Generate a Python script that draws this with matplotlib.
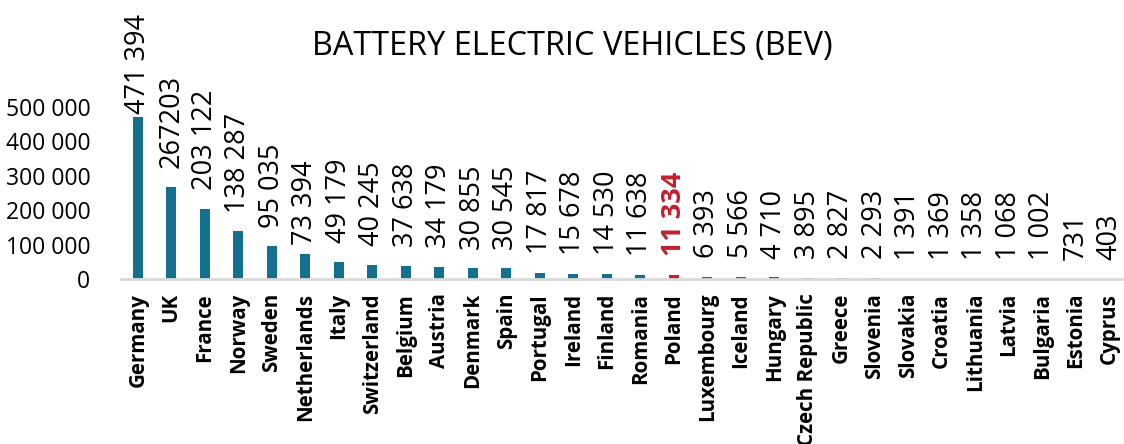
import matplotlib
matplotlib.use("Agg")
import matplotlib.pyplot as plt
from matplotlib.ticker import FuncFormatter

countries = ["Germany", "UK", "France", "Norway", "Sweden", "Netherlands", "Italy",
             "Switzerland", "Belgium", "Austria", "Denmark", "Spain", "Portugal",
             "Ireland", "Finland", "Romania", "Poland", "Luxembourg", "Iceland",
             "Hungary", "Czech Republic", "Greece", "Slovenia", "Slovakia", "Croatia",
             "Lithuania", "Latvia", "Bulgaria", "Estonia", "Cyprus"]
values = [471394, 267203, 203122, 138287, 95035, 73394, 49179, 40245, 37638, 34179,
          30855, 30545, 17817, 15678, 14530, 11638, 11334, 6393, 5566, 4710, 3895,
          2827, 2293, 1391, 1369, 1358, 1068, 1002, 731, 403]
value_labels = ["471 394", "267203", "203 122", "138 287", "95 035", "73 394", "49 179",
                "40 245", "37 638", "34 179", "30 855", "30 545", "17 817", "15 678",
                "14 530", "11 638", "11 334", "6 393", "5 566", "4 710", "3 895",
                "2 827", "2 293", "1 391", "1 369", "1 358", "1 068", "1 002", "731", "403"]
highlight = "Poland"
title = "BATTERY ELECTRIC VEHICLES (BEV)"
yticks = [0, 100000, 200000, 300000, 400000, 500000]

TEAL = "#13718F"
RED = "#C0202F"
FONT = ["Open Sans", "DejaVu Sans"]
plt.rcParams["font.family"] = FONT

# label offsets (points) — a couple of labels were nudged down in the original
default_offset = 13.5
special_offset = {"Germany": 2.2, "Netherlands": 6.5}

W, H = 1124, 444
fig = plt.figure(figsize=(W / 100, H / 100), dpi=100)
ax = fig.add_axes([121 / W, 1 - 279 / H, (1126 - 121) / W, (279 - 107) / H])

colors = [RED if c == highlight else TEAL for c in countries]
x = list(range(len(countries)))
ax.bar(x, values, width=0.3, color=colors, zorder=3)

ax.set_xlim(-0.5, len(countries) - 0.5)
ax.set_ylim(0, 500000)
ax.set_yticks(yticks)
ax.yaxis.set_major_formatter(FuncFormatter(lambda v, p: f"{int(v):,}".replace(",", " ")))
ax.tick_params(axis="y", length=0, labelsize=16.5, pad=22)
ax.set_xticks(x)
ax.set_xticklabels(countries, rotation=90, fontsize=14.8, fontweight="bold")
ax.tick_params(axis="x", length=0, pad=10)

for s in ["top", "right", "left"]:
    ax.spines[s].set_visible(False)
ax.spines["bottom"].set_color("#D9D9D9")
ax.spines["bottom"].set_linewidth(2)
ax.spines["bottom"].set_zorder(4)

for xi, v, lab, c in zip(x, values, value_labels, countries):
    hl = c == highlight
    off = special_offset.get(c, default_offset)
    ax.annotate(lab, (xi, v), xytext=(0, off), textcoords="offset points",
                rotation=90, ha="center", va="bottom", fontsize=19.5,
                color=RED if hl else "black",
                fontweight="bold" if hl else "normal", annotation_clip=False)

fig.text(572 / W, 1 - 46 / H, title, ha="center", va="center", fontsize=23.4)

fig.savefig("out.png", dpi=100)
